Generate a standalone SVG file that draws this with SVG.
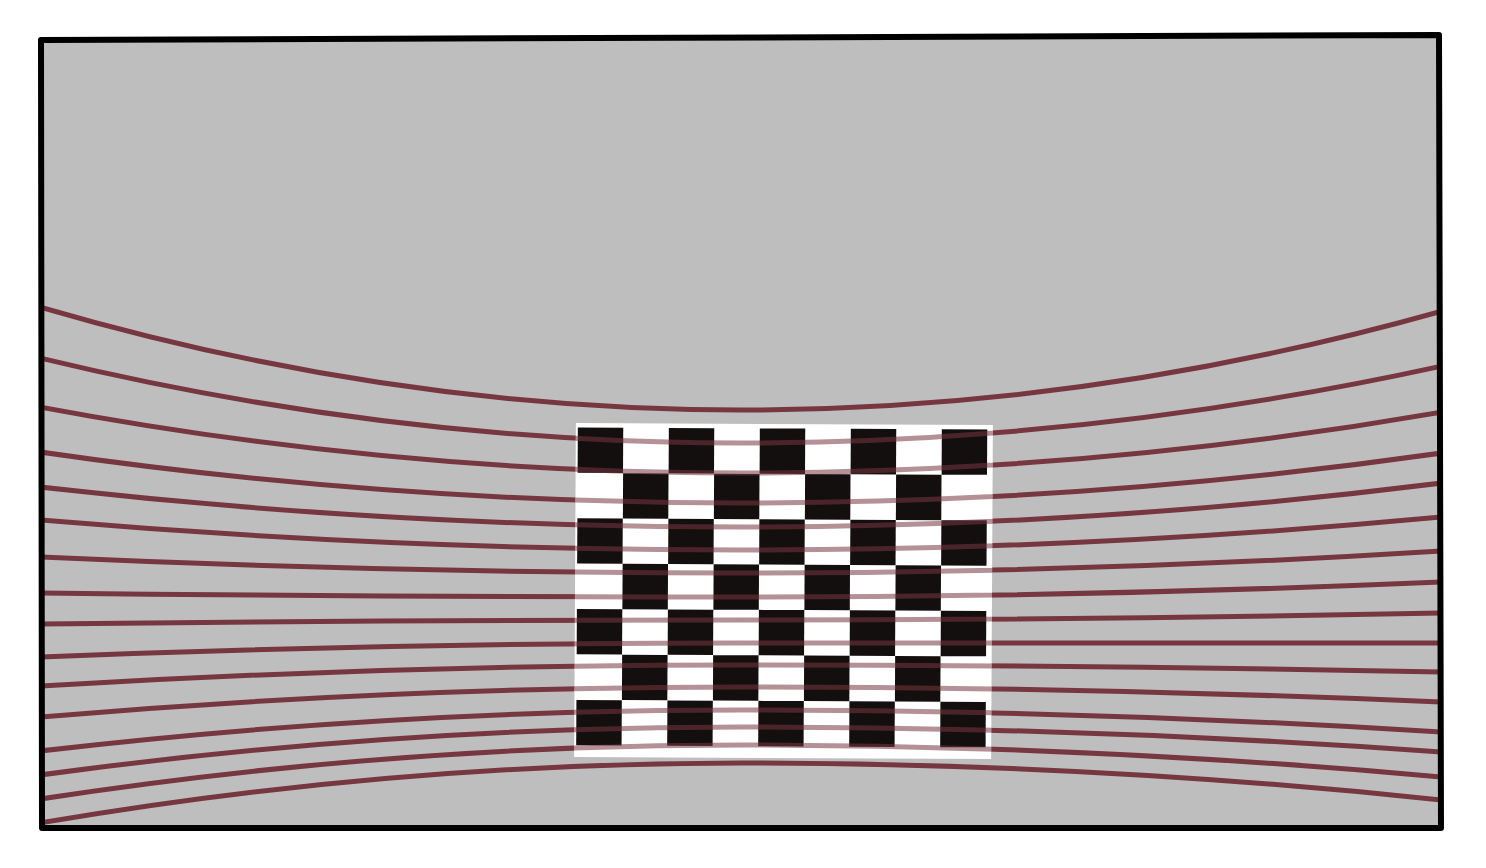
<svg xmlns="http://www.w3.org/2000/svg" width="1486" height="868" viewBox="0 0 1486 868">
<style>
.ln{fill:none;stroke:#773741;stroke-width:5;stroke-linecap:round}
.sq{fill:#140f0f}
</style>
<defs>
<clipPath id="frameClip"><polygon points="41,40 1439,35 1441,828 42,828"/></clipPath>
<clipPath id="boardClip"><rect x="575" y="424" width="417" height="334" transform="rotate(0.3 783 590)"/></clipPath>
<g id="lineSet">
<path class="ln" d="M 40 307 Q 392 410 741 410 T 1442 311"/>
<path class="ln" d="M 40 358 Q 392 443 741 443 T 1442 366"/>
<path class="ln" d="M 40 407 Q 392 473 741 473 T 1442 412"/>
<path class="ln" d="M 40 452 Q 392 503 741 503 T 1442 453"/>
<path class="ln" d="M 40 487 Q 392 527 741 527 T 1442 483"/>
<path class="ln" d="M 40 520 Q 392 550 741 550 T 1442 517"/>
<path class="ln" d="M 40 557 Q 392 573 741 573 T 1442 551"/>
<path class="ln" d="M 40 593 Q 392 597 741 597 T 1442 582"/>
<path class="ln" d="M 40 624 Q 392 620 741 620 T 1442 613"/>
<path class="ln" d="M 40 657 Q 392 643 741 643 T 1442 643"/>
<path class="ln" d="M 40 686 Q 392 665 741 665 T 1442 672"/>
<path class="ln" d="M 40 717 Q 392 687 741 687 T 1442 702"/>
<path class="ln" d="M 40 751 Q 392 710 741 710 T 1442 732"/>
<path class="ln" d="M 40 775 Q 392 727 741 727 T 1442 752"/>
<path class="ln" d="M 40 799 Q 392 745 741 745 T 1442 777"/>
<path class="ln" d="M 40 823 Q 392 763 741 763 T 1442 800"/>
</g>
</defs>
<g id="frame-fill">
<polygon points="41,40 1439,35 1441,828 42,828" fill="#bebebe"/>
</g>
<g id="connectors" clip-path="url(#frameClip)">
<use href="#lineSet"/>
</g>
<g id="checkerboard" transform="rotate(0.3 783 590)">
<rect x="575" y="424" width="417" height="334" fill="#ffffff"/>
<rect class="sq" x="577" y="428.5" width="45.4" height="45.3"/>
<rect class="sq" x="668" y="428.5" width="45.4" height="45.3"/>
<rect class="sq" x="759" y="428.5" width="45.4" height="45.3"/>
<rect class="sq" x="850" y="428.5" width="45.4" height="45.3"/>
<rect class="sq" x="941" y="428.5" width="45.4" height="45.3"/>
<rect class="sq" x="622.5" y="474" width="45.4" height="45.3"/>
<rect class="sq" x="713.5" y="474" width="45.4" height="45.3"/>
<rect class="sq" x="804.5" y="474" width="45.4" height="45.3"/>
<rect class="sq" x="895.5" y="474" width="45.4" height="45.3"/>
<rect class="sq" x="577" y="519.3" width="45.4" height="45.3"/>
<rect class="sq" x="668" y="519.3" width="45.4" height="45.3"/>
<rect class="sq" x="759" y="519.3" width="45.4" height="45.3"/>
<rect class="sq" x="850" y="519.3" width="45.4" height="45.3"/>
<rect class="sq" x="941" y="519.3" width="45.4" height="45.3"/>
<rect class="sq" x="622.5" y="564.7" width="45.4" height="45.3"/>
<rect class="sq" x="713.5" y="564.7" width="45.4" height="45.3"/>
<rect class="sq" x="804.5" y="564.7" width="45.4" height="45.3"/>
<rect class="sq" x="895.5" y="564.7" width="45.4" height="45.3"/>
<rect class="sq" x="577" y="610" width="45.4" height="45.3"/>
<rect class="sq" x="668" y="610" width="45.4" height="45.3"/>
<rect class="sq" x="759" y="610" width="45.4" height="45.3"/>
<rect class="sq" x="850" y="610" width="45.4" height="45.3"/>
<rect class="sq" x="941" y="610" width="45.4" height="45.3"/>
<rect class="sq" x="622.5" y="655.5" width="45.4" height="45.3"/>
<rect class="sq" x="713.5" y="655.5" width="45.4" height="45.3"/>
<rect class="sq" x="804.5" y="655.5" width="45.4" height="45.3"/>
<rect class="sq" x="895.5" y="655.5" width="45.4" height="45.3"/>
<rect class="sq" x="577" y="701" width="45.4" height="45.3"/>
<rect class="sq" x="668" y="701" width="45.4" height="45.3"/>
<rect class="sq" x="759" y="701" width="45.4" height="45.3"/>
<rect class="sq" x="850" y="701" width="45.4" height="45.3"/>
<rect class="sq" x="941" y="701" width="45.4" height="45.3"/>
</g>
<g id="connectors-over-board" clip-path="url(#boardClip)" opacity="0.55">
<use href="#lineSet"/>
</g>
<g id="frame-border">
<polygon points="41,40 1439,35 1441,828 42,828" fill="none" stroke="#000000" stroke-width="6" stroke-linejoin="round"/>
</g>
</svg>
